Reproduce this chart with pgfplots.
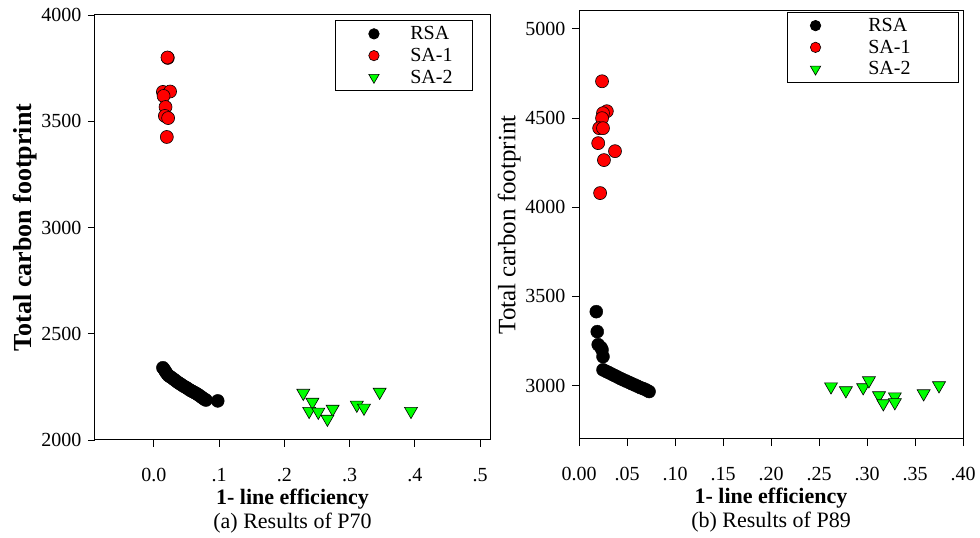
\documentclass[border=0pt]{standalone}
\usepackage{fontspec}
\setmainfont{Liberation Serif}
\usepackage{pgfplots}
\pgfplotsset{compat=1.18}

\pgfplotsset{
  carbon/.style={
    scale only axis,
    anchor=south west,
    only marks,
    axis line style={line width=1pt},
    tick align=outside, tick pos=left,
    major tick length=7pt,
    every tick/.style={black, line width=0.9pt},
    /pgf/number format/assume math mode=true,
    /pgf/number format/set thousands separator={},
    tick label style={font=\fontsize{20}{20}\selectfont},
    xticklabel style={yshift=-18pt},
    yticklabel style={xshift=-3pt},
    xlabel style={align=center, font=\fontsize{22}{24}\selectfont, yshift=0pt},
    legend cell align=left,
    legend style={font=\fontsize{20}{20}\selectfont, draw=black, line width=0.8pt,
      anchor=north west, inner xsep=18pt, inner ysep=4pt, row sep=3pt},
  },
  rsa/.style={mark=*, mark size=6.5pt, mark options={fill=black, draw=black}},
  sa1/.style={mark=*, mark size=6.5pt, mark options={fill=red, draw=black, line width=0.6pt}},
  sa2/.style={mark=triangle*, mark size=7.5pt, mark options={fill=green, draw=black, rotate=180, line width=0.6pt}},
}

\begin{document}
\begin{tikzpicture}[x=1pt,y=1pt]
\path[use as bounding box] (0,0) rectangle (980,538);

% (a) P70
\begin{axis}[carbon,
  at={(95pt,98pt)}, width=395pt, height=425pt,
  xmin=-0.09, xmax=0.515, ymin=2000, ymax=4000,
  xtick={0,0.1,0.2,0.3,0.4,0.5}, xticklabels={0.0,.1,.2,.3,.4,.5},
  ytick={2000,2500,3000,3500,4000},
  xlabel={\textbf{1- line efficiency}\\ (a) Results of P70},
  ylabel={\textbf{Total carbon footprint}},
  ylabel style={font=\fontsize{26}{26}\selectfont, yshift=-2pt},
  legend style={at={(0.608,0.988)}, /tikz/every odd column/.append style={column sep=14pt}},
  legend image code/.code={\path (0pt,0pt) (40pt,0pt); \draw[#1, scale=0.8] plot coordinates {(25pt,0pt)};},
]
\addplot[rsa] coordinates {
 (0.014,2340) (0.016,2332) (0.018,2322) (0.020,2313) (0.022,2305) (0.025,2298)
 (0.028,2292) (0.031,2285) (0.034,2278) (0.037,2271) (0.040,2265) (0.043,2259)
 (0.046,2253) (0.050,2246) (0.053,2240) (0.056,2234) (0.059,2229) (0.062,2224)
 (0.065,2219) (0.068,2213) (0.071,2207) (0.074,2200) (0.077,2193) (0.080,2188)
 (0.098,2184)
};
\addlegendentry{RSA}
\addplot[sa1] coordinates {
 (0.0215,3798) (0.021,3800) (0.014,3638) (0.025,3640) (0.015,3619)
 (0.018,3567) (0.017,3525) (0.022,3515) (0.020,3426)
};
\addlegendentry{SA-1}
\addplot[sa2] coordinates {
 (0.229,2221) (0.243,2179) (0.238,2136) (0.252,2132) (0.274,2146)
 (0.266,2099) (0.311,2165) (0.322,2151) (0.346,2226) (0.394,2136)
};
\addlegendentry{SA-2}
\end{axis}

% (b) P89
\begin{axis}[carbon,
  at={(579pt,99pt)}, width=384pt, height=428pt,
  xmin=0, xmax=0.40, ymin=2700, ymax=5100,
  xtick={0,0.05,...,0.40}, xticklabels={0.00,.05,.10,.15,.20,.25,.30,.35,.40},
  ytick={3000,3500,4000,4500,5000},
  xlabel={\textbf{1- line efficiency}\\ (b) Results of P89},
  ylabel={Total carbon footprint},
  ylabel style={font=\fontsize{25}{25}\selectfont, yshift=-2pt},
  legend style={at={(0.542,0.998)}, /tikz/every odd column/.append style={column sep=10pt}},
  legend image code/.code={\path (0pt,0pt) (50pt,0pt); \draw[#1, scale=0.8] plot coordinates {(12pt,0pt)};},
]
\addplot[rsa] coordinates {
 (0.018,3414) (0.019,3302) (0.020,3229) (0.023,3212) (0.024,3200) (0.025,3162)
 (0.025,3088) (0.028,3080) (0.031,3072) (0.034,3064) (0.037,3056) (0.040,3048)
 (0.043,3040) (0.046,3032) (0.049,3025) (0.052,3018) (0.055,3010) (0.058,3003)
 (0.061,2996) (0.064,2988) (0.067,2982) (0.070,2975) (0.073,2966)
};
\addlegendentry{\makebox[70pt][l]{RSA}}
\addplot[sa1] coordinates {
 (0.024,4706) (0.029,4538) (0.025,4527) (0.024,4499) (0.021,4443)
 (0.025,4443) (0.020,4359) (0.0375,4314) (0.026,4264) (0.022,4079)
};
\addlegendentry{\makebox[70pt][l]{SA-1}}
\addplot[sa2] coordinates {
 (0.2625,2994) (0.278,2972) (0.296,2989) (0.302,3028) (0.3125,2944)
 (0.317,2899) (0.329,2938) (0.329,2905) (0.359,2955) (0.375,3000)
};
\addlegendentry{\makebox[70pt][l]{SA-2}}
\end{axis}
\end{tikzpicture}
\end{document}
